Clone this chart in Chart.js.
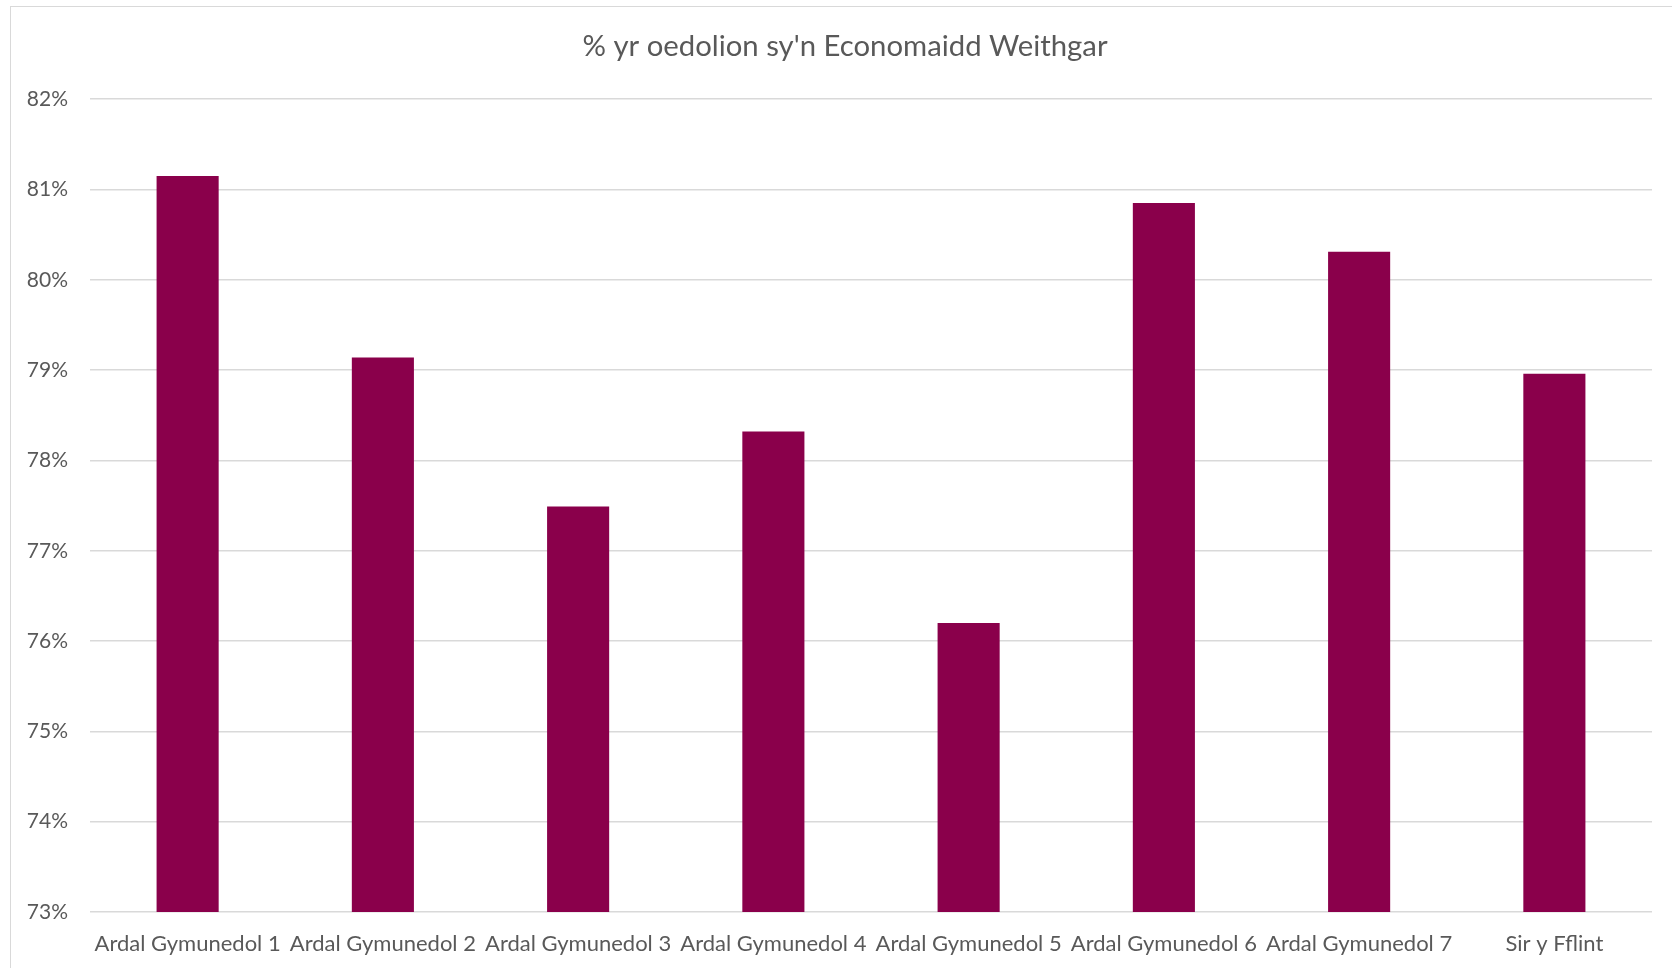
<!DOCTYPE html>
<html>
<head>
<meta charset="utf-8">
<script src="https://cdn.jsdelivr.net/npm/chart.js@4/dist/chart.umd.min.js"></script>
<style>
  html, body { margin: 0; padding: 0; background: #fff; overflow: hidden; width: 1672px; height: 968px; }
  #frame { position: absolute; left: 10px; top: 6px; width: 1700px; height: 1000px; border: 1px solid #d9d9d9; }
  #wrap { position: absolute; left: 10px; top: 6px; width: 1670px; height: 1000px; }
</style>
</head>
<body>
<div id="frame"></div>
<div id="wrap"><canvas id="chart"></canvas></div>
<script>
const areas = [
  'Ardal Gymunedol 1', 'Ardal Gymunedol 2', 'Ardal Gymunedol 3', 'Ardal Gymunedol 4',
  'Ardal Gymunedol 5', 'Ardal Gymunedol 6', 'Ardal Gymunedol 7', 'Sir y Fflint'
];
const activeRate = [81.15, 79.14, 77.49, 78.32, 76.20, 80.85, 80.31, 78.96];
const yTicks = [73, 74, 75, 76, 77, 78, 79, 80, 81, 82];

const textColour = '#595959';
const fontFamily = 'Lato, "Open Sans", sans-serif';

new Chart(document.querySelector('#chart'), {
  type: 'bar',
  data: {
    labels: areas,
    datasets: [{
      label: '% yr oedolion sy\'n Economaidd Weithgar',
      data: activeRate,
      backgroundColor: '#8a004b',
      borderWidth: 0,
      categoryPercentage: 1,
      barPercentage: 0.318,
    }],
  },
  options: {
    responsive: true,
    maintainAspectRatio: false,
    animation: false,
    layout: { padding: 0 },
    plugins: {
      legend: { display: false },
      tooltip: { enabled: false },
      title: {
        display: true,
        text: '% yr oedolion sy\'n Economaidd Weithgar',
        color: textColour,
        font: { family: fontFamily, size: 29.3, weight: 'normal' },
        padding: { top: 23, bottom: 35 },
      },
    },
    scales: {
      x: {
        grid: { display: false },
        border: { display: false },
        ticks: {
          color: textColour,
          font: { family: fontFamily, size: 22 },
          maxRotation: 0,
          autoSkip: false,
          padding: 11,
        },
        afterFit: (s) => { s.height = 94; },
      },
      y: {
        min: yTicks[0],
        max: yTicks[yTicks.length - 1],
        afterBuildTicks: (s) => { s.ticks = yTicks.map((v) => ({ value: v })); },
        grid: { color: '#d9d9d9', lineWidth: 1.5, drawTicks: false },
        border: { display: false },
        ticks: {
          color: textColour,
          font: { family: fontFamily, size: 21 },
          padding: 22,
          callback: (v) => `${v}%`,
        },
        afterFit: (s) => { s.width = 80; },
      },
      // empty right-hand space so the title stays centred on the whole frame
      gap: {
        position: 'right',
        display: true,
        grid: { display: false },
        border: { display: false },
        ticks: { display: false },
        afterFit: (s) => { s.width = 28; },
      },
    },
  },
});
</script>
</body>
</html>
